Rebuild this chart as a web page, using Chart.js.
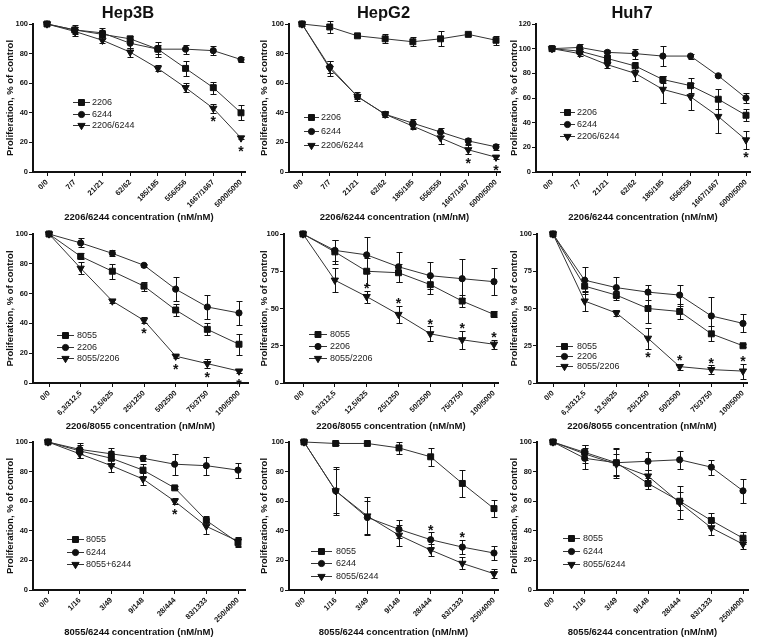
<!DOCTYPE html>
<html><head><meta charset="utf-8">
<script src="https://cdn.jsdelivr.net/npm/chart.js@4/dist/chart.umd.min.js"></script>
<style>
html,body{margin:0;padding:0;background:#fff;}
#wrap{position:relative;width:763px;height:642px;overflow:hidden;background:#fff}
#wrap canvas{position:absolute;left:0;top:0}
</style></head><body>
<div id="wrap"></div>
<script>
// ---------- categories (tick labels) ----------
const dosesRow1 = ['0/0','7/7','21/21','62/62','185/185','556/556','1667/1667','5000/5000'];
const dosesRow2 = ['0/0','6,3/312,5','12,5/625','25/1250','50/2500','75/3750','100/5000'];
const dosesRow3 = ['0/0','1/16','3/49','9/148','28/444','83/1333','250/4000'];

// ---------- Hep3B ----------
const hep3b_2206     = [100, 96, 93, 90, 83, 70, 57, 40];
const hep3b_2206_sd  = [0, 3, 3, 2, 5, 5, 4, 5];
const hep3b_6244     = [100, 96, 94, 87, 83, 83, 82, 76];
const hep3b_6244_sd  = [0, 2, 3, 3, 3, 3, 3, 2];
const hep3b_combo    = [100, 95, 89, 81, 70, 57, 43, 23];
const hep3b_combo_sd = [0, 3, 2, 3, 2, 3, 3, 1];
const hep3b_stars    = [[6,2,'b'],[7,2,'b']];

// ---------- HepG2 ----------
const hepg2_2206     = [100, 98, 92, 90, 88, 90, 93, 89];
const hepg2_2206_sd  = [0, 4, 1, 3, 3, 5, 1, 3];
const hepg2_6244     = [100, 71, 51, 39, 33, 27, 21, 17];
const hepg2_6244_sd  = [0, 4, 2, 2, 3, 3, 2, 2];
const hepg2_combo    = [100, 70, 51, 39, 31, 23, 15, 10];
const hepg2_combo_sd = [0, 5, 3, 2, 2, 4, 3, 1];
const hepg2_stars    = [[6,2,'b'],[7,2,'b']];

// ---------- Huh7 ----------
const huh7_2206      = [100, 98, 92, 86, 75, 70, 59, 46];
const huh7_2206_sd   = [0, 2, 3, 3, 3, 6, 8, 5];
const huh7_6244      = [100, 101, 97, 96, 94, 94, 78, 60];
const huh7_6244_sd   = [0, 3, 2, 4, 8, 2, 1, 4];
const huh7_combo     = [100, 96, 87, 80, 67, 61, 45, 26];
const huh7_combo_sd  = [0, 2, 3, 6, 11, 11, 13, 7];
const huh7_stars     = [[7,2,'b']];

// ---------- Row 2 : 8055 / 2206 ----------
const r2c1_8055 = [100, 85, 75, 65, 49, 36, 26];
const r2c1_8055_sd = [0, 2, 5, 3, 4, 4, 7];
const r2c1_2206 = [100, 94, 87, 79, 63, 51, 47];
const r2c1_2206_sd = [0, 3, 2, 1, 8, 8, 8];
const r2c1_combo = [100, 77, 55, 42, 18, 13, 8];
const r2c1_combo_sd = [0, 4, 1, 2, 1, 3, 1];
const r2c1_stars = [[3,2,'b'],[4,2,'b'],[5,2,'b'],[6,2,'b']];

const r2c2_8055 = [100, 88, 75, 74, 66, 55, 46];
const r2c2_8055_sd = [0, 8, 9, 6, 6, 4, 2];
const r2c2_2206 = [100, 89, 86, 78, 72, 70, 68];
const r2c2_2206_sd = [0, 7, 12, 10, 9, 13, 9];
const r2c2_combo = [100, 69, 58, 46, 33, 29, 26];
const r2c2_combo_sd = [0, 8, 4, 6, 5, 6, 3];
const r2c2_stars = [[2,2,'a'],[3,2,'a'],[4,2,'a'],[5,2,'a'],[6,2,'a']];

const r2c3_8055 = [100, 65, 59, 50, 48, 33, 25];
const r2c3_8055_sd = [0, 4, 3, 10, 5, 5, 1];
const r2c3_2206 = [100, 69, 64, 61, 59, 45, 40];
const r2c3_2206_sd = [0, 9, 7, 5, 7, 13, 6];
const r2c3_combo = [100, 55, 47, 30, 11, 9, 8];
const r2c3_combo_sd = [0, 7, 2, 7, 2, 3, 5];
const r2c3_stars = [[3,2,'b'],[4,2,'a'],[5,2,'a'],[6,2,'a']];

// ---------- Row 3 : 8055 / 6244 ----------
const r3c1_8055 = [100, 94, 89, 81, 69, 47, 32];
const r3c1_8055_sd = [0, 5, 5, 4, 1, 3, 3];
const r3c1_6244 = [100, 95, 92, 89, 85, 84, 81];
const r3c1_6244_sd = [0, 3, 4, 2, 7, 6, 5];
const r3c1_combo = [100, 92, 84, 75, 60, 43, 33];
const r3c1_combo_sd = [0, 3, 4, 4, 2, 5, 3];
const r3c1_stars = [[4,2,'b']];

const r3c2_8055 = [100, 99, 99, 96, 90, 72, 55];
const r3c2_8055_sd = [0, 1, 1, 4, 6, 9, 6];
const r3c2_6244 = [100, 67, 49, 41, 34, 29, 25];
const r3c2_6244_sd = [0, 15, 11, 6, 5, 5, 5];
const r3c2_combo = [100, 67, 50, 37, 27, 18, 11];
const r3c2_combo_sd = [0, 16, 13, 7, 4, 4, 3];
const r3c2_stars = [[4,1,'a'],[5,1,'a']];

const r3c3_8055 = [100, 93, 86, 72, 60, 47, 35];
const r3c3_8055_sd = [0, 5, 10, 4, 6, 5, 4];
const r3c3_6244 = [100, 89, 86, 87, 88, 83, 67];
const r3c3_6244_sd = [0, 7, 9, 6, 6, 5, 8];
const r3c3_combo = [100, 92, 85, 77, 59, 42, 31];
const r3c3_combo_sd = [0, 6, 7, 4, 11, 5, 3];
const r3c3_stars = [];

// series names
const namesRow1 = ['2206','6244','2206/6244'];
const namesRow2 = ['8055','2206','8055/2206'];
const namesR3C1 = ['8055','6244','8055+6244'];
const namesR3 = ['8055','6244','8055/6244'];

const xTitles = ['2206/6244 concentration (nM/nM)','2206/8055 concentration (nM/nM)','8055/6244 concentration (nM/nM)'];
const yTitle = 'Proliferation, % of control';

// ---------- styling / layout ----------
const FONT = "'Liberation Sans', Arial, Helvetica, sans-serif";
const INK = '#111';
const LINE = '#333';
const W = 763, H = 642;
const TICK_FS = 7.5, AXT_FS = 9.5, LEG_FS = 9, TITLE_FS = 16.5, STAR_FS = 14;

const markers = [
  {pointStyle:'rect', radius:4.2, rotation:0},
  {pointStyle:'circle', radius:3.1, rotation:0},
  {pointStyle:'triangle', radius:4.2, rotation:180}
];

const panels = [
  {title:'Hep3B', labels:dosesRow1, xTitle:xTitles[0], yMax:100, yStep:20, names:namesRow1,
   vals:[hep3b_2206,hep3b_6244,hep3b_combo], errs:[hep3b_2206_sd,hep3b_6244_sd,hep3b_combo_sd], stars:hep3b_stars,
   box:{L:33,R:245,T:24,B:172,p0:47,pN:241,yt:10,xt:217}, leg:{x0:73,x1:90,tx:92,rows:[102,114,125]}},
  {title:'HepG2', labels:dosesRow1, xTitle:xTitles[0], yMax:100, yStep:20, names:namesRow1,
   vals:[hepg2_2206,hepg2_6244,hepg2_combo], errs:[hepg2_2206_sd,hepg2_6244_sd,hepg2_combo_sd], stars:hepg2_stars,
   box:{L:289,R:500,T:24,B:172,p0:302,pN:496,yt:264,xt:217}, leg:{x0:304,x1:319,tx:321,rows:[117,131,145]}},
  {title:'Huh7', labels:dosesRow1, xTitle:xTitles[0], yMax:120, yStep:20, names:namesRow1,
   vals:[huh7_2206,huh7_6244,huh7_combo], errs:[huh7_2206_sd,huh7_6244_sd,huh7_combo_sd], stars:huh7_stars,
   box:{L:536,R:750,T:24,B:172,p0:552,pN:746,yt:514,xt:217}, leg:{x0:560,x1:575,tx:577,rows:[112,124,136]}},

  {labels:dosesRow2, xTitle:xTitles[1], yMax:100, yStep:20, names:namesRow2,
   vals:[r2c1_8055,r2c1_2206,r2c1_combo], errs:[r2c1_8055_sd,r2c1_2206_sd,r2c1_combo_sd], stars:r2c1_stars,
   box:{L:33,R:248,T:234,B:383,p0:49,pN:239,yt:10,xt:426}, leg:{x0:57,x1:74,tx:77,rows:[335,347,358]}},
  {labels:dosesRow2, xTitle:xTitles[1], yMax:100, yStep:25, names:namesRow2,
   vals:[r2c2_8055,r2c2_2206,r2c2_combo], errs:[r2c2_8055_sd,r2c2_2206_sd,r2c2_combo_sd], stars:r2c2_stars,
   box:{L:284,R:498,T:234,B:383,p0:303,pN:494,yt:264,xt:426}, leg:{x0:309,x1:327,tx:330,rows:[334,346,358]}},
  {labels:dosesRow2, xTitle:xTitles[1], yMax:100, yStep:25, names:namesRow2,
   vals:[r2c3_8055,r2c3_2206,r2c3_combo], errs:[r2c3_8055_sd,r2c3_2206_sd,r2c3_combo_sd], stars:r2c3_stars,
   box:{L:537,R:747,T:234,B:383,p0:553,pN:743,yt:514,xt:426}, leg:{x0:556,x1:573,tx:577,rows:[346,356,366]}},

  {labels:dosesRow3, xTitle:xTitles[2], yMax:100, yStep:20, names:namesR3C1,
   vals:[r3c1_8055,r3c1_6244,r3c1_combo], errs:[r3c1_8055_sd,r3c1_6244_sd,r3c1_combo_sd], stars:r3c1_stars,
   box:{L:33,R:245,T:442,B:590,p0:48,pN:238,yt:10,xt:632}, leg:{x0:67,x1:84,tx:86,rows:[539,552,564]}},
  {labels:dosesRow3, xTitle:xTitles[2], yMax:100, yStep:20, names:namesR3,
   vals:[r3c2_8055,r3c2_6244,r3c2_combo], errs:[r3c2_8055_sd,r3c2_6244_sd,r3c2_combo_sd], stars:r3c2_stars,
   box:{L:289,R:498,T:442,B:590,p0:304,pN:494,yt:264,xt:632}, leg:{x0:311,x1:332,tx:336,rows:[551,563,576]}},
  {labels:dosesRow3, xTitle:xTitles[2], yMax:100, yStep:20, names:namesR3,
   vals:[r3c3_8055,r3c3_6244,r3c3_combo], errs:[r3c3_8055_sd,r3c3_6244_sd,r3c3_combo_sd], stars:r3c3_stars,
   box:{L:537,R:748,T:442,B:590,p0:553,pN:743,yt:514,xt:632}, leg:{x0:563,x1:580,tx:583,rows:[538,551,564]}}
];

function drawMarker(ctx, st, x, y) {
  const r = st.radius;
  ctx.beginPath();
  if (st.pointStyle === 'rect') {
    const s = Math.SQRT1_2 * r; ctx.rect(x - s, y - s, 2 * s, 2 * s);
  } else if (st.pointStyle === 'circle') {
    ctx.arc(x, y, r, 0, Math.PI * 2);
  } else {
    const a0 = st.rotation * Math.PI / 180;
    for (let k = 0; k < 3; k++) {
      const a = a0 + k * 2 * Math.PI / 3;
      const px = x + Math.sin(a) * r, py = y - Math.cos(a) * r;
      if (k) ctx.lineTo(px, py); else ctx.moveTo(px, py);
    }
    ctx.closePath();
  }
  ctx.fill(); ctx.stroke();
}

const annotPlugin = {
  id: 'annot',
  afterDatasetsDraw(chart, args, opts) {
    const p = opts.panel; if (!p) return;
    const ctx = chart.ctx, xs = chart.scales.x, ys = chart.scales.y;
    ctx.save();
    ctx.strokeStyle = INK; ctx.lineWidth = 1;
    // error bars
    p.vals.forEach((vals, s) => {
      const errs = p.errs[s];
      vals.forEach((v, i) => {
        const e = errs[i]; if (!e) return;
        const x = Math.round(xs.getPixelForValue(i)) + 0.5;
        const yl = Math.round(ys.getPixelForValue(v - e)) + 0.5;
        const yh = Math.round(ys.getPixelForValue(v + e)) + 0.5;
        ctx.beginPath();
        ctx.moveTo(x, yl); ctx.lineTo(x, yh);
        ctx.moveTo(x - 3, yl); ctx.lineTo(x + 3, yl);
        ctx.moveTo(x - 3, yh); ctx.lineTo(x + 3, yh);
        ctx.stroke();
      });
    });
    // asterisks
    ctx.fillStyle = INK;
    ctx.font = 'bold ' + STAR_FS + 'px ' + FONT;
    ctx.textAlign = 'center'; ctx.textBaseline = 'alphabetic';
    p.stars.forEach(([i, s, pos]) => {
      const v = p.vals[s][i], e = p.errs[s][i];
      const x = xs.getPixelForValue(i);
      const yp = ys.getPixelForValue(v);
      let c;
      if (pos === 'b') c = Math.max(ys.getPixelForValue(v - e), yp + 4) + 5.5;
      else c = Math.min(ys.getPixelForValue(v + e), yp - 4) - 5.5;
      ctx.fillText('*', x, c + 0.58 * STAR_FS);
    });
    ctx.restore();
  },
  afterDraw(chart, args, opts) {
    const p = opts.panel; if (!p) return;
    const ctx = chart.ctx, ca = chart.chartArea;
    ctx.save();
    // panel title
    if (p.title) {
      ctx.fillStyle = INK;
      ctx.font = 'bold ' + TITLE_FS + 'px ' + FONT;
      ctx.textAlign = 'center'; ctx.textBaseline = 'alphabetic';
      ctx.fillText(p.title, (ca.left + ca.right) / 2 - 11, 18);
    }
    // legend
    const lg = p.leg;
    ctx.font = LEG_FS + 'px ' + FONT;
    ctx.textAlign = 'left'; ctx.textBaseline = 'middle';
    p.names.forEach((name, s) => {
      const y = lg.rows[s];
      ctx.strokeStyle = LINE; ctx.lineWidth = 1;
      ctx.beginPath(); ctx.moveTo(lg.x0, y + 0.5); ctx.lineTo(lg.x1, y + 0.5); ctx.stroke();
      ctx.fillStyle = INK; ctx.strokeStyle = INK;
      drawMarker(ctx, markers[s], (lg.x0 + lg.x1) / 2, y + 0.5);
      ctx.fillStyle = '#222';
      ctx.fillText(name, lg.tx, y + 0.5);
    });
    ctx.restore();
  }
};

const wrap = document.getElementById('wrap');
panels.forEach(p => {
  const b = p.box;
  const n = p.labels.length - 1;
  const sp = (b.pN - b.p0) / n;
  const xMin = -(b.p0 - b.L) / sp;
  const xMax = n + (b.R - b.pN) / sp;
  const padLeft = b.yt - AXT_FS / 2;
  const xBottom = b.xt + AXT_FS / 2;
  const cv = document.createElement('canvas');
  cv.width = W; cv.height = H;
  wrap.appendChild(cv);
  const datasets = p.vals.map((vals, s) => ({
    label: p.names[s],
    data: vals.map((v, i) => ({x: i, y: v})),
    borderColor: LINE, borderWidth: 1, tension: 0, fill: false, clip: false,
    pointStyle: markers[s].pointStyle, pointRadius: markers[s].radius, pointRotation: markers[s].rotation,
    pointBackgroundColor: INK, pointBorderColor: INK, pointBorderWidth: 1, pointHoverRadius: markers[s].radius
  }));
  new Chart(cv, {
    type: 'line',
    data: {datasets},
    plugins: [annotPlugin],
    options: {
      responsive: false, animation: false, events: [],
      layout: {padding: {left: padLeft, top: b.T, right: W - b.R, bottom: H - xBottom}},
      plugins: {legend: {display: false}, tooltip: {enabled: false}, title: {display: false}, annot: {panel: p}},
      scales: {
        x: {
          type: 'linear', min: xMin, max: xMax, bounds: 'data',
          afterBuildTicks: s => { s.ticks = p.labels.map((_, i) => ({value: i})); },
          afterFit: s => { s.height = xBottom - b.B; },
          grid: {display: true, drawOnChartArea: false, drawTicks: true, tickLength: 4, color: INK, lineWidth: 1},
          border: {display: true, color: INK, width: 2},
          ticks: {autoSkip: false, minRotation: 45, maxRotation: 45, padding: 2, color: INK,
                  font: {family: FONT, size: TICK_FS, weight: 'bold'},
                  callback: v => p.labels[Math.round(v)]},
          title: {display: true, text: p.xTitle, color: INK, padding: 0,
                  font: {family: FONT, size: AXT_FS, weight: 'bold', lineHeight: 1}}
        },
        y: {
          type: 'linear', min: 0, max: p.yMax,
          afterFit: s => { s.width = b.L - padLeft; },
          grid: {display: true, drawOnChartArea: false, drawTicks: true, tickLength: 4, color: INK, lineWidth: 1},
          border: {display: true, color: INK, width: 2},
          ticks: {stepSize: p.yStep, padding: 1, color: INK, font: {family: FONT, size: TICK_FS, weight: 'bold'}},
          title: {display: true, text: yTitle, color: INK, padding: 0,
                  font: {family: FONT, size: AXT_FS, weight: 'bold', lineHeight: 1}}
        }
      }
    }
  });
});
</script>
</body></html>
